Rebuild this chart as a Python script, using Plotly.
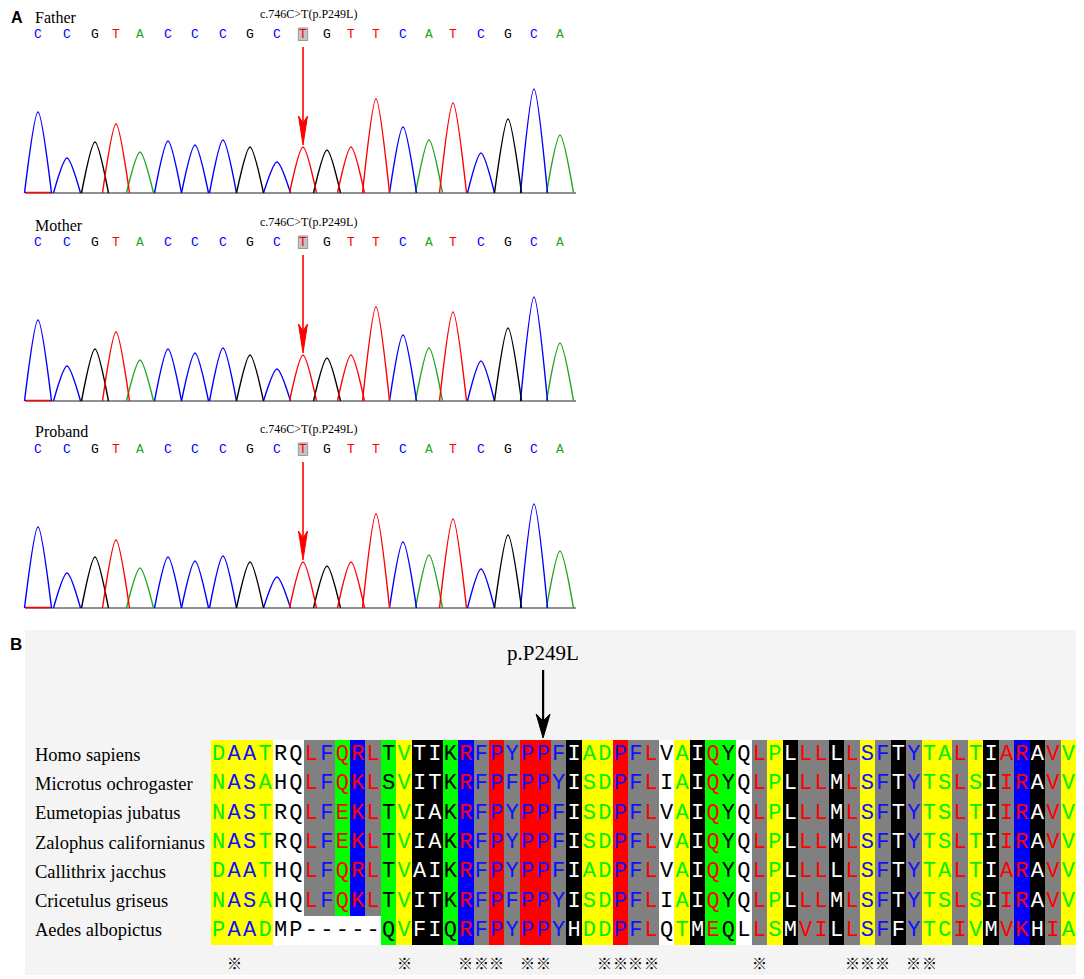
import plotly.graph_objects as go

W, H = 1084, 979
OFF = 8  # page body margin

# ---- panel A: sanger traces ----
bases = "CCGTACCCGCTGTTCATCGCA"
peak_pos = [16, 45, 73, 94, 118, 146, 173, 201, 228, 255, 281,
            305, 329, 354, 381, 407, 431, 459, 486, 512, 538]
father_h = [81, 35, 51, 69, 41, 52, 48, 53, 46, 31, 46,
            43, 46, 94, 66, 53, 90, 40, 74, 104, 58]
mother_h = [81, 35, 52, 69, 41, 52, 48, 53, 46, 32, 46,
            43, 46, 94, 66, 53, 89, 40, 73, 104, 58]
proband_h = [81, 35, 51, 68, 40, 51, 47, 52, 46, 31, 46,
             42, 46, 94, 66, 53, 89, 39, 73, 104, 57]
samples = ["Father", "Mother", "Proband"]
mut_index = 10
mut_label = "c.746C>T(p.P249L)"

# ---- panel B: alignment ----
species = ["Homo sapiens", "Microtus ochrogaster", "Eumetopias jubatus",
           "Zalophus californianus", "Callithrix jacchus",
           "Cricetulus griseus", "Aedes albopictus"]
seqs = [
    "DAATRQLFQRLTVTIKRFPYPPFIADPFLVAIQYQLPLLLLLSFTYTALTIARAVV",
    "NASAHQLFQKLSVITKRFPFPPYISDPFLIAIQYQLPLLLMLSFTYTSLSIIRAVV",
    "NASTRQLFEKLTVIAKRFPYPPFISDPFLVAIQYQLPLLLMLSFTYTSLTIIRAVV",
    "NASTRQLFEKLTVIAKRFPYPPFISDPFLVAIQYQLPLLLMLSFTYTSLTIIRAVV",
    "DAATHQLFQRLTVAIKRFPYPPFIADPFLVAIQYQLPLLLLLSFTYTALTIARAVV",
    "NASAHQLFQKLTVITKRFPFPPYISDPFLIAIQYQLPLLLMLSFTYTSLSIIRAVV",
    "PAADMP-----QVFIQRFPYPPYHDDPFLQTMEQLLSMVILLSFFYTCIVMVKHIA",
]
col_bg = "yyyywwssgbsgykkgbsrsrrskyyrsswykggwsykssksysksyysyksbksy"
col_fg = "gbbgkkrbrrrkgwwkrbbbbbbwggbbrkgwrkkrgwrrwrbbwbggrgwrrwrg"
conserved = [1, 12, 16, 17, 18, 20, 21, 25, 26, 27, 28, 35, 41, 42, 43, 45, 46]
site_col = 21
site_label = "p.P249L"

base_color = {"A": "#1fa81f", "C": "#0000ff", "G": "#000000", "T": "#ff0000"}
bg_codes = "wysgbkr"
bg_colors = ["#ffffff", "#ffff00", "#808080", "#00ff00", "#0000ff", "#000000", "#ff0000"]
fg_colors = {"g": "#00ee00", "b": "#1010ff", "k": "#000000", "r": "#ff0000", "w": "#ffffff"}

SERIF = "Liberation Serif"
FW, FH = W - OFF, H - OFF


def pxx(x):
    return (x - OFF) / FW


def pyy(y):
    return 1 - (y - OFF) / FH


fig = go.Figure()
layout = dict(width=FW, height=FH, margin=dict(l=0, r=0, t=0, b=0),
              paper_bgcolor="white", plot_bgcolor="rgba(0,0,0,0)",
              showlegend=False)
shapes = []
annotations = []

baselines = [193, 401, 608]
for k, (name, heights) in enumerate(zip(samples, [father_h, mother_h, proband_h])):
    ax = "x" if k == 0 else f"x{k + 1}"
    ay = "y" if k == 0 else f"y{k + 1}"
    base = baselines[k]
    layout["xaxis" if k == 0 else f"xaxis{k + 1}"] = dict(
        domain=[pxx(22), pxx(580)], range=[0, 558], visible=False, fixedrange=True)
    layout["yaxis" if k == 0 else f"yaxis{k + 1}"] = dict(
        domain=[pyy(base + 3), pyy(base - 183)], range=[-3, 183],
        visible=False, fixedrange=True)

    # baseline
    fig.add_trace(go.Scatter(x=[3, 554], y=[0, 0], mode="lines",
                             line=dict(color="#222222", width=1.2),
                             xaxis=ax, yaxis=ay, hoverinfo="skip"))
    fig.add_trace(go.Scatter(x=[3, 30], y=[0.5, 0.5], mode="lines",
                             line=dict(color="#ff0000", width=1.5),
                             xaxis=ax, yaxis=ay, hoverinfo="skip"))
    # peaks per channel
    for b in "ACGT":
        xs, ys = [], []
        for p, h, bb in zip(peak_pos, heights, bases):
            if bb != b:
                continue
            xs += [p - 13.5, p, p + 13.5, None]
            ys += [0, h, 0, None]
        fig.add_trace(go.Scatter(x=xs, y=ys, mode="lines",
                                 line=dict(color=base_color[b], width=1.4,
                                           shape="spline", smoothing=0.8),
                                 connectgaps=False, xaxis=ax, yaxis=ay,
                                 hoverinfo="skip"))
    # base calls
    fig.add_trace(go.Scatter(x=peak_pos, y=[158.5] * len(bases), mode="text",
                             text=list(bases),
                             textfont=dict(family="Liberation Mono", size=13,
                                           color=[base_color[b] for b in bases]),
                             xaxis=ax, yaxis=ay, hoverinfo="skip"))
    mp = peak_pos[mut_index]
    shapes.append(dict(type="rect", xref=ax, yref=ay, x0=mp - 4.7, x1=mp + 4.7,
                       y0=152.5, y1=165, fillcolor="#c4c4c4",
                       line=dict(color="#9a9a9a", width=1), layer="below"))
    tip = heights[mut_index] + 2
    shapes.append(dict(type="line", xref=ax, yref=ay, x0=mp, x1=mp, y0=146,
                       y1=tip + 20, line=dict(color="#ff0000", width=1.6)))
    shapes.append(dict(type="path", xref=ax, yref=ay,
                       path=f"M{mp},{tip} L{mp - 4.5},{tip + 29} L{mp},{tip + 22} "
                            f"L{mp + 4.5},{tip + 29} Z",
                       fillcolor="#ff0000", line=dict(color="#ff0000", width=1)))
    annotations.append(dict(x=mp + 5, y=179, xref=ax, yref=ay, text=mut_label,
                            showarrow=False, xanchor="center", yanchor="middle",
                            font=dict(family=SERIF, size=12, color="black")))
    annotations.append(dict(x=pxx(33), y=pyy(base - 176), xref="paper", yref="paper",
                            text=name, showarrow=False, xanchor="left", yanchor="middle",
                            font=dict(family=SERIF, size=16, color="black")))

annotations.append(dict(x=pxx(9), y=pyy(17), xref="paper", yref="paper", text="<b>A</b>",
                        showarrow=False, xanchor="left", yanchor="middle",
                        font=dict(family="Liberation Sans", size=16, color="black")))
annotations.append(dict(x=pxx(8), y=pyy(644), xref="paper", yref="paper", text="<b>B</b>",
                        showarrow=False, xanchor="left", yanchor="middle",
                        font=dict(family="Liberation Sans", size=17, color="black")))

# ---- panel B drawing ----
shapes.append(dict(type="rect", xref="paper", yref="paper", x0=pxx(25), x1=pxx(1080),
                   y0=pyy(975), y1=pyy(630), fillcolor="#f4f4f4", line=dict(width=0),
                   layer="below"))

layout["xaxis4"] = dict(domain=[pxx(211), pxx(1076)], range=[-0.5, 55.5],
                        visible=False, fixedrange=True)
layout["yaxis4"] = dict(domain=[pyy(945), pyy(740)], range=[6.5, -0.5],
                        visible=False, fixedrange=True)

z = []
tx, ty, tt, tc = [], [], [], []
for r, s in enumerate(seqs):
    row = []
    for c, ch in enumerate(s):
        if ch == "-" or (r == len(seqs) - 1 and 6 <= c <= 10):
            row.append(0)
            col = "#000000"
        else:
            row.append(bg_codes.index(col_bg[c]))
            col = fg_colors[col_fg[c]]
        tx.append(c)
        ty.append(r)
        tt.append(ch)
        tc.append(col)
    z.append(row)

n = len(bg_colors)
cscale = []
for i, c in enumerate(bg_colors):
    cscale.append([i / n, c])
    cscale.append([(i + 1) / n, c])

fig.add_trace(go.Heatmap(z=z, x=list(range(len(seqs[0]))), y=list(range(len(seqs))),
                         colorscale=cscale, zmin=-0.5, zmax=n - 0.5, showscale=False,
                         xaxis="x4", yaxis="y4", hoverinfo="skip"))
fig.add_trace(go.Scatter(x=tx, y=ty, text=tt, mode="text",
                         textfont=dict(family="Liberation Mono", size=22, color=tc),
                         xaxis="x4", yaxis="y4", hoverinfo="skip"))

# conserved-site marks under the alignment
for c in conserved:
    annotations.append(dict(x=c, y=pyy(962), xref="x4", yref="paper", text="※",
                            showarrow=False, xanchor="center", yanchor="middle",
                            font=dict(family="Noto Sans CJK SC", size=15,
                                      color="black")))

for r, name in enumerate(species):
    annotations.append(dict(x=pxx(33), y=r, xref="paper", yref="y4", text=name,
                            showarrow=False, xanchor="left", yanchor="middle",
                            font=dict(family=SERIF, size=18.5, color="black")))

annotations.append(dict(x=site_col, y=pyy(653), xref="x4", yref="paper", text=site_label,
                        showarrow=False, xanchor="center", yanchor="middle",
                        font=dict(family=SERIF, size=21, color="black")))
shapes.append(dict(type="line", xref="x4", yref="paper", x0=site_col, x1=site_col,
                   y0=pyy(670), y1=pyy(722), line=dict(color="black", width=2.2)))
shapes.append(dict(type="path", xref="x4", yref="paper",
                   path=f"M{site_col},{pyy(738)} L{site_col - 0.45},{pyy(714)} "
                        f"L{site_col},{pyy(721)} L{site_col + 0.45},{pyy(714)} Z",
                   fillcolor="black", line=dict(color="black", width=1)))

layout["shapes"] = shapes
layout["annotations"] = annotations
fig.update_layout(**layout)
fig.write_html("out.html")
